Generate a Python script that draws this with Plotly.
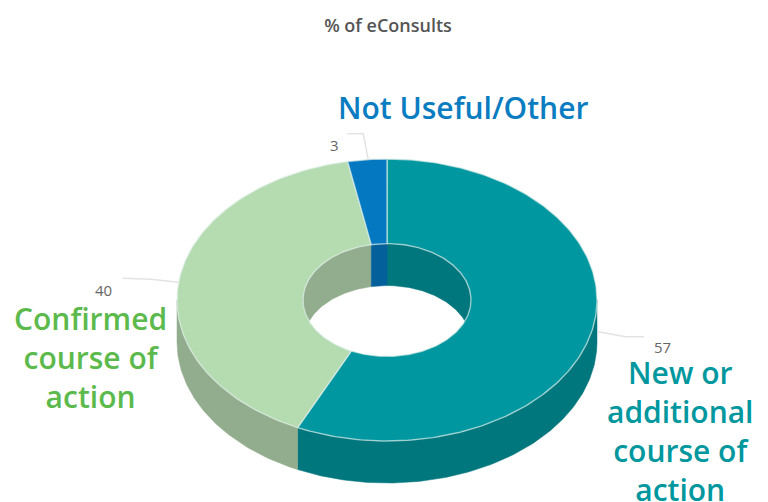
import numpy as np
import plotly.graph_objects as go

categories = ["New or<br>additional<br>course of<br>action", "Confirmed<br>course of<br>action", "Not Useful/Other"]
values = [57, 40, 3]
top_colors = ["#0097a0", "#b5dbb0", "#0479c1"]
wall_colors = ["#00767d", "#92ad8d", "#04609a"]
text_colors = ["#00979e", "#5cba4d", "#0a7dc2"]
title_text = "% of eConsults"

W, H = 768, 502
CX, CY, RX, RY = 387.0, 300.0, 210.0, 141.0
HOLE = 0.4
DEPTH = 42.0


def pt(angle, scale=1.0, dy=0.0):
    a = np.radians(angle)
    return CX + RX * scale * np.sin(a), CY - RY * scale * np.cos(a) + dy


def arc(a0, a1, scale=1.0, dy=0.0):
    n = max(2, int(abs(a1 - a0) / 1.0) + 2)
    return pt(np.linspace(a0, a1, n), scale, dy)


def poly(xs, ys, fill, line=None, width=0.0):
    return go.Scatter(x=np.r_[xs, xs[0]], y=np.r_[ys, ys[0]], mode="lines", fill="toself",
                      fillcolor=fill, line=dict(color=line or fill, width=width),
                      hoverinfo="skip", showlegend=False)


def band(a0, a1, s0, d0, s1, d1):
    x0, y0 = arc(a0, a1, s0, d0)
    x1, y1 = arc(a1, a0, s1, d1)
    return np.r_[x0, x1], np.r_[y0, y1]


edges = np.r_[0, np.cumsum(values)] / np.sum(values) * 360
fig = go.Figure()

# outer wall (front half), inner wall (back half)
for i in range(len(values)):
    a0, a1 = edges[i], edges[i + 1]
    lo, hi = max(a0, 90), min(a1, 270)
    if lo < hi:
        fig.add_trace(poly(*band(lo, hi, 1, 0, 1, DEPTH), wall_colors[i], width=0.5))
for i in range(len(values)):
    a0, a1 = edges[i], edges[i + 1]
    for lo, hi in ((max(a0, 0), min(a1, 90)), (max(a0, 270), min(a1, 360))):
        if lo < hi:
            fig.add_trace(poly(*band(lo, hi, HOLE, 0, HOLE, DEPTH), wall_colors[i], width=0.5))

# top faces
for i in range(len(values)):
    fig.add_trace(poly(*band(edges[i], edges[i + 1], 1, 0, HOLE, 0), top_colors[i],
                       line="rgba(225,240,235,0.65)", width=1.4))

# leader lines and value labels
leaders = [((6, 1), (34, 6), (52, 6)), ((0, 0), (-28, -3), (-56, -4)), ((1, 0), (-4, -26), (-20, -26))]
value_off = [(71, 16), (-75, 8), (-33, -15)]
for i, v in enumerate(values):
    mid = (edges[i] + edges[i + 1]) / 2
    mx, my = pt(mid)
    fig.add_trace(go.Scatter(x=[mx + d[0] for d in leaders[i]], y=[my + d[1] for d in leaders[i]],
                             mode="lines", line=dict(color="#e3e3e3", width=1.5),
                             hoverinfo="skip", showlegend=False))
    fig.add_annotation(x=mx + value_off[i][0], y=my + value_off[i][1], text=str(v), showarrow=False,
                       font=dict(family="Open Sans", size=15, color="#666666"))

# category labels
label_pos = [(680, 431), (90, 357), (463, 107)]
for c, col, (x, y) in zip(categories, text_colors, label_pos):
    fig.add_annotation(x=x, y=y, text=c, showarrow=False, align="center",
                       font=dict(family="Open Sans", size=30, weight=600, color=col))

fig.update_layout(
    title=dict(text=title_text, x=388 / W, y=1 - 26 / H, xanchor="center", yanchor="middle",
               font=dict(family="Open Sans", size=18, weight=600, color="#555555")),
    margin=dict(l=0, r=0, t=0, b=0), paper_bgcolor="white", plot_bgcolor="white",
    xaxis=dict(range=[0, W], visible=False, fixedrange=True),
    yaxis=dict(range=[H, 0], visible=False, fixedrange=True),
    showlegend=False, width=W, height=H,
)
fig.write_html("out.html", config=dict(displayModeBar=False),
               post_script="document.body.style.margin='0';")
